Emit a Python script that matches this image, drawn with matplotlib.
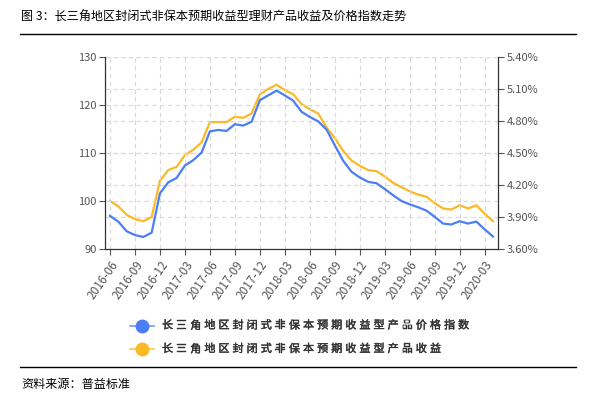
import matplotlib.pyplot as plt
import matplotlib.patheffects as pe
import numpy as np
from matplotlib.lines import Line2D

plt.rcParams['font.family'] = ['Noto Sans CJK SC', 'DejaVu Sans']

# monthly, 2016-06 .. 2020-04
months = ['2016-06', '2016-07', '2016-08', '2016-09', '2016-10', '2016-11', '2016-12',
          '2017-01', '2017-02', '2017-03', '2017-04', '2017-05', '2017-06', '2017-07',
          '2017-08', '2017-09', '2017-10', '2017-11', '2017-12', '2018-01', '2018-02',
          '2018-03', '2018-04', '2018-05', '2018-06', '2018-07', '2018-08', '2018-09',
          '2018-10', '2018-11', '2018-12', '2019-01', '2019-02', '2019-03', '2019-04',
          '2019-05', '2019-06', '2019-07', '2019-08', '2019-09', '2019-10', '2019-11',
          '2019-12', '2020-01', '2020-02', '2020-03', '2020-04']

price_index = [96.9, 95.7, 93.7, 92.9, 92.5, 93.4, 101.6, 103.9, 104.8, 107.4, 108.5, 110.1,
               114.5, 114.8, 114.6, 116.0, 115.7, 116.5, 121.0, 122.0, 123.0, 122.0, 120.9,
               118.6, 117.5, 116.6, 114.9, 111.6, 108.4, 106.1, 104.9, 104.0, 103.7, 102.5,
               101.2, 100.0, 99.3, 98.7, 98.0, 96.7, 95.3, 95.1, 95.8, 95.3, 95.7, 94.1, 92.6]

yield_pct = [4.05, 4.00, 3.92, 3.88, 3.86, 3.90, 4.24, 4.34, 4.37, 4.48, 4.53, 4.60, 4.79,
             4.79, 4.79, 4.84, 4.83, 4.87, 5.05, 5.10, 5.14, 5.09, 5.05, 4.96, 4.91, 4.87,
             4.74, 4.64, 4.52, 4.43, 4.38, 4.34, 4.33, 4.28, 4.22, 4.18, 4.14, 4.11, 4.09,
             4.03, 3.98, 3.97, 4.01, 3.98, 4.01, 3.93, 3.86]

label_price = '长三角地区封闭式非保本预期收益型产品价格指数'
label_yield = '长三角地区封闭式非保本预期收益型产品收益'
title = '图 3：长三角地区封闭式非保本预期收益型理财产品收益及价格指数走势'
source = '资料来源：普益标准'

blue = '#4c7ef3'
orange = '#fbb927'
grey = '#555555'

W, H = 596, 395
fig = plt.figure(figsize=(W / 100, H / 100), dpi=100)
ax = fig.add_axes([105 / W, 1 - 249 / H, (498 - 105) / W, (249 - 57) / H])
ax2 = ax.twinx()

x = np.arange(len(months))
ax.plot(x, price_index, color=blue, lw=1.6, zorder=3)
ax2.plot(x, yield_pct, color=orange, lw=1.6, zorder=3)

ax.set_xlim(-0.6, len(months) - 0.4)
ax.set_ylim(90, 130)
ax.set_yticks([90, 100, 110, 120, 130])
ax2.set_ylim(3.6, 5.4)
ax2.set_yticks(np.arange(3.6, 5.41, 0.3))
ax2.set_yticklabels(['%.2f%%' % v for v in np.arange(3.6, 5.41, 0.3)])

ax.set_xticks(x[::3])
ax.set_xticklabels(months[::3], rotation=55, ha='right', rotation_mode='anchor')

gkw = dict(color='#d9d9d9', linestyle=(0, (4, 3)), linewidth=0.8)
ax.grid(True, axis='both', **gkw)
ax2.grid(True, axis='y', **gkw)
ax.set_axisbelow(True)
ax2.set_axisbelow(True)

for a in (ax, ax2):
    a.tick_params(labelsize=8, colors=grey, length=4, width=0.8, direction='out', pad=2)
    a.spines['top'].set_visible(False)
    for s in a.spines.values():
        s.set_color('#333333')
        s.set_linewidth(0.9)
ax.tick_params(axis='x', labelsize=8.5, pad=3)
ax.spines['right'].set_visible(False)
ax2.spines['left'].set_visible(False)
ax2.spines['bottom'].set_visible(False)
ax.set_zorder(ax2.get_zorder() + 1)
ax.patch.set_visible(False)

# title, rules, source
fig.text(21 / W, 1 - 17 / H, title, fontsize=8.7, color='black', va='center', ha='left')
fig.add_artist(Line2D([20 / W, 576 / W], [1 - 33.5 / H] * 2, color='black', lw=1.0))
fig.add_artist(Line2D([20 / W, 576 / W], [1 - 367 / H] * 2, color='black', lw=1.0))
fig.text(21 / W, 1 - 384 / H, source, fontsize=8.7, color='black', va='center', ha='left')

# legend (letter-spaced text)
stroke = [pe.withStroke(linewidth=0.3, foreground='#333333')]
for ly, col, lab in [(325.5, blue, label_price), (349, orange, label_yield)]:
    fig.add_artist(Line2D([130 / W, 154 / W], [1 - ly / H] * 2, color=col, lw=1.2, alpha=0.8))
    fig.add_artist(Line2D([142 / W], [1 - ly / H], color=col, marker='o', markersize=9,
                          markeredgecolor=col))
    for i, ch in enumerate(lab):
        fig.text((162 + i * 14.1) / W, 1 - ly / H, ch, fontsize=8, color='#333333',
                 va='center', ha='left', path_effects=stroke)

fig.savefig('out.png', dpi=100)
